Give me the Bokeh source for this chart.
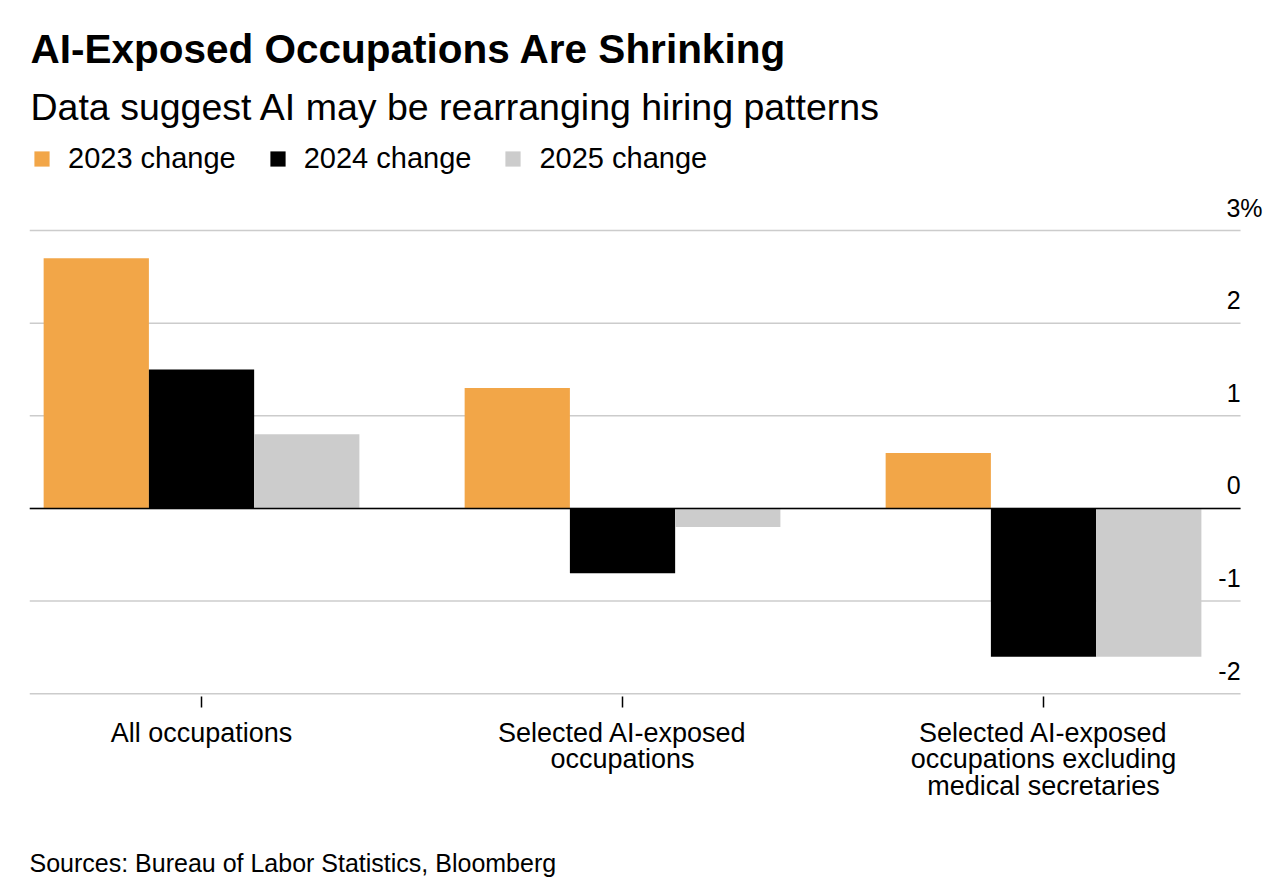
from bokeh.plotting import figure
from bokeh.models import (FixedTicker, Label, ColumnDataSource, Legend, LegendItem,
                          Range1d, Title)
from bokeh.core.properties import value
from bokeh.embed import file_html
from bokeh.resources import INLINE

# ---- data ----
categories = ["All occupations",
              "Selected AI-exposed\noccupations",
              "Selected AI-exposed\noccupations excluding\nmedical secretaries"]
series_names = ["2023 change", "2024 change", "2025 change"]
change_2023 = [2.7, 1.3, 0.6]
change_2024 = [1.5, -0.7, -1.6]
change_2025 = [0.8, -0.2, -1.6]
y_ticks = [3, 2, 1, 0, -1, -2]
y_tick_labels = ["3%", "2", "1", "0", "-1", "-2"]

title_text = "AI-Exposed Occupations Are Shrinking"
subtitle_text = "Data suggest AI may be rearranging hiring patterns"
source_text = "Sources: Bureau of Labor Statistics, Bloomberg"

colors = ["#f2a648", "#000000", "#cccccc"]
FONT = "Liberation Sans"

W, H = 1270, 880
X0, XG = -0.4086, 2.468          # plot left / gridline right end (data units)
X1 = X0 + 1241 / 421.0
Y0, Y1 = -2.03, 3 + 230 / 92.6

p = figure(width=W, height=H, output_backend="svg", toolbar_location=None,
           x_range=Range1d(X0, X1), y_range=Range1d(Y0, Y1),
           y_axis_location=None, min_border_left=29, min_border_right=0,
           min_border_top=0, min_border_bottom=184)
p.outline_line_color = None
p.background_fill_color = "white"
p.border_fill_color = "white"
p.xgrid.visible = False
p.ygrid.visible = False

# gridlines (end at the label column)
gsrc = ColumnDataSource(dict(x0=[X0] * len(y_ticks), x1=[XG] * len(y_ticks), y=y_ticks))
p.segment(x0="x0", x1="x1", y0="y", y1="y", source=gsrc, line_color="#cccccc",
          line_width=1.5, level="underlay")

# bars
xs = list(range(len(categories)))
offsets = [-0.25, 0.0, 0.25]
renderers = []
for vals, off, col in zip([change_2023, change_2024, change_2025], offsets, colors):
    src = ColumnDataSource(dict(x=[x + off for x in xs], top=vals))
    r = p.vbar(x="x", top="top", bottom=0, width=0.25, source=src,
               fill_color=col, line_color=None)
    renderers.append(r)

# zero line
zsrc = ColumnDataSource(dict(x0=[X0], x1=[XG], y=[0]))
p.segment(x0="x0", x1="x1", y0="y", y1="y", source=zsrc, line_color="black", line_width=1.5)

# y tick labels above gridlines
ysrc = ColumnDataSource(dict(x=[XG] * len(y_ticks), y=y_ticks, t=y_tick_labels,
                             xo=[22 if "%" in t else 0 for t in y_tick_labels]))
p.text(x="x", y="y", text="t", source=ysrc, x_offset="xo", y_offset=-23,
       text_align="right", text_baseline="alphabetic", text_font=value(FONT),
       text_font_size="25px", text_color="#000000")

# x axis
ax = p.xaxis[0]
ax.ticker = FixedTicker(ticks=xs)
ax.major_label_overrides = {i: c for i, c in zip(xs, categories)}
ax.axis_line_color = None
ax.major_tick_in = 0
ax.major_tick_out = 11
ax.major_tick_line_color = "black"
ax.major_tick_line_width = 1.5
ax.minor_tick_line_color = None
ax.major_label_text_font = FONT
ax.major_label_text_font_size = "27px"
ax.major_label_text_line_height = 0.89
ax.major_label_text_color = "#000000"
ax.major_label_standoff = 10

# titles (screen units relative to frame: frame left=29, frame bottom=696)
FB = 696
p.add_layout(Label(x=1, y=FB - 48, x_units="screen", y_units="screen", text=title_text,
                   text_font=FONT, text_font_size="40.5px", text_font_style="bold",
                   text_color="#000000", text_baseline="alphabetic"))
p.add_layout(Label(x=1, y=FB - 106, x_units="screen", y_units="screen", text=subtitle_text,
                   text_font=FONT, text_font_size="37.5px",
                   text_color="#000000", text_baseline="alphabetic"))

# spacer + source below the axis
p.add_layout(Title(text=" ", text_font_size="12px", standoff=25), "below")
p.add_layout(Title(text=source_text, align="left", text_font=FONT, text_font_size="25px",
                   text_font_style="normal", text_color="#000000", standoff=4), "below")

# legend
items = [LegendItem(label=n, renderers=[r]) for n, r in zip(series_names, renderers)]
legend = Legend(items=items, orientation="horizontal", location=(3, FB - 175),
                glyph_width=19, glyph_height=19, label_standoff=17, spacing=32,
                padding=0, margin=0, border_line_color=None, background_fill_alpha=0,
                label_text_font=FONT, label_text_font_size="29px",
                label_text_color="#000000")
p.add_layout(legend, "center")

open("out.html", "w").write(file_html(p, INLINE))
